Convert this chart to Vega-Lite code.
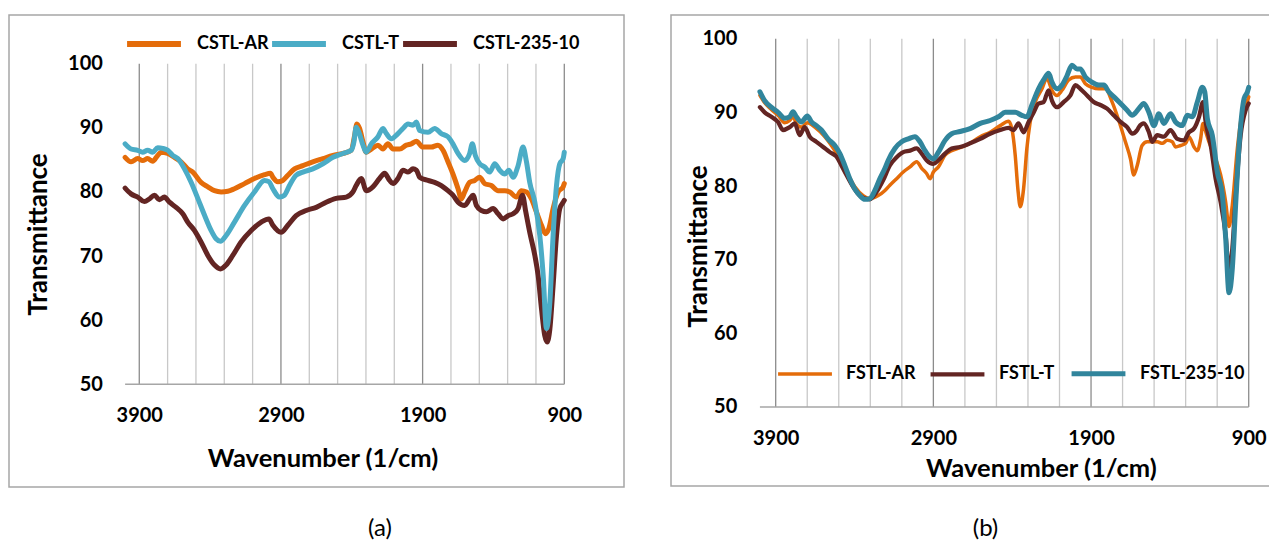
{
"$schema": "https://vega.github.io/schema/vega-lite/v6.json",
"background": "white",
"padding": {"left": 8, "top": 13, "right": 0, "bottom": 0},
"spacing": 45,
"config": {"view": {"stroke": "#a6a6a6", "strokeWidth": 1.5}, "font": "Lato"},
"datasets": {
"grid": [{"g":3900,"m":1},{"g":3700,"m":0},{"g":3500,"m":0},{"g":3300,"m":0},{"g":3100,"m":0},{"g":2900,"m":1},{"g":2700,"m":0},{"g":2500,"m":0},{"g":2300,"m":0},{"g":2100,"m":0},{"g":1900,"m":1},{"g":1700,"m":0},{"g":1500,"m":0},{"g":1300,"m":0},{"g":1100,"m":0},{"g":900,"m":1}],
"a": [
{"s":"CSTL-AR","w":4000,"t":85.4},{"s":"CSTL-AR","w":3958,"t":84.7},{"s":"CSTL-AR","w":3911,"t":85.2},{"s":"CSTL-AR","w":3876,"t":84.9},{"s":"CSTL-AR","w":3841,"t":85.2},{"s":"CSTL-AR","w":3805,"t":84.8},{"s":"CSTL-AR","w":3770,"t":85.7},{"s":"CSTL-AR","w":3746,"t":86.2},{"s":"CSTL-AR","w":3699,"t":86.0},{"s":"CSTL-AR","w":3652,"t":85.4},{"s":"CSTL-AR","w":3605,"t":84.7},{"s":"CSTL-AR","w":3558,"t":83.6},{"s":"CSTL-AR","w":3522,"t":83.1},{"s":"CSTL-AR","w":3464,"t":81.5},{"s":"CSTL-AR","w":3416,"t":80.8},{"s":"CSTL-AR","w":3369,"t":80.2},{"s":"CSTL-AR","w":3322,"t":80.0},{"s":"CSTL-AR","w":3275,"t":80.1},{"s":"CSTL-AR","w":3228,"t":80.5},{"s":"CSTL-AR","w":3157,"t":81.3},{"s":"CSTL-AR","w":3087,"t":82.1},{"s":"CSTL-AR","w":3016,"t":82.7},{"s":"CSTL-AR","w":2974,"t":82.9},{"s":"CSTL-AR","w":2957,"t":82.3},{"s":"CSTL-AR","w":2922,"t":81.6},{"s":"CSTL-AR","w":2887,"t":81.8},{"s":"CSTL-AR","w":2851,"t":82.6},{"s":"CSTL-AR","w":2804,"t":83.6},{"s":"CSTL-AR","w":2745,"t":84.1},{"s":"CSTL-AR","w":2675,"t":84.7},{"s":"CSTL-AR","w":2604,"t":85.2},{"s":"CSTL-AR","w":2533,"t":85.7},{"s":"CSTL-AR","w":2463,"t":86.0},{"s":"CSTL-AR","w":2404,"t":86.5},{"s":"CSTL-AR","w":2380,"t":88.8},{"s":"CSTL-AR","w":2364,"t":90.6},{"s":"CSTL-AR","w":2345,"t":89.9},{"s":"CSTL-AR","w":2321,"t":87.8},{"s":"CSTL-AR","w":2298,"t":86.2},{"s":"CSTL-AR","w":2262,"t":86.7},{"s":"CSTL-AR","w":2215,"t":87.3},{"s":"CSTL-AR","w":2180,"t":86.7},{"s":"CSTL-AR","w":2145,"t":87.5},{"s":"CSTL-AR","w":2109,"t":86.7},{"s":"CSTL-AR","w":2062,"t":86.7},{"s":"CSTL-AR","w":2015,"t":87.3},{"s":"CSTL-AR","w":1980,"t":87.5},{"s":"CSTL-AR","w":1944,"t":87.9},{"s":"CSTL-AR","w":1898,"t":87.0},{"s":"CSTL-AR","w":1839,"t":87.0},{"s":"CSTL-AR","w":1792,"t":87.3},{"s":"CSTL-AR","w":1756,"t":86.5},{"s":"CSTL-AR","w":1721,"t":84.7},{"s":"CSTL-AR","w":1686,"t":82.8},{"s":"CSTL-AR","w":1650,"t":80.5},{"s":"CSTL-AR","w":1627,"t":78.9},{"s":"CSTL-AR","w":1603,"t":80.0},{"s":"CSTL-AR","w":1568,"t":81.5},{"s":"CSTL-AR","w":1532,"t":81.8},{"s":"CSTL-AR","w":1497,"t":82.3},{"s":"CSTL-AR","w":1462,"t":81.3},{"s":"CSTL-AR","w":1415,"t":81.0},{"s":"CSTL-AR","w":1367,"t":80.2},{"s":"CSTL-AR","w":1320,"t":80.2},{"s":"CSTL-AR","w":1285,"t":80.0},{"s":"CSTL-AR","w":1238,"t":79.2},{"s":"CSTL-AR","w":1203,"t":80.2},{"s":"CSTL-AR","w":1167,"t":80.0},{"s":"CSTL-AR","w":1132,"t":78.9},{"s":"CSTL-AR","w":1097,"t":76.9},{"s":"CSTL-AR","w":1061,"t":74.8},{"s":"CSTL-AR","w":1033,"t":73.5},{"s":"CSTL-AR","w":1009,"t":74.3},{"s":"CSTL-AR","w":979,"t":77.4},{"s":"CSTL-AR","w":943,"t":80.0},{"s":"CSTL-AR","w":908,"t":80.8},{"s":"CSTL-AR","w":900,"t":81.3},
{"s":"CSTL-235-10","w":4000,"t":80.6},{"s":"CSTL-235-10","w":3958,"t":79.7},{"s":"CSTL-235-10","w":3911,"t":79.2},{"s":"CSTL-235-10","w":3864,"t":78.5},{"s":"CSTL-235-10","w":3829,"t":78.9},{"s":"CSTL-235-10","w":3793,"t":79.5},{"s":"CSTL-235-10","w":3758,"t":78.8},{"s":"CSTL-235-10","w":3723,"t":79.2},{"s":"CSTL-235-10","w":3687,"t":78.4},{"s":"CSTL-235-10","w":3640,"t":77.6},{"s":"CSTL-235-10","w":3593,"t":76.6},{"s":"CSTL-235-10","w":3558,"t":75.3},{"s":"CSTL-235-10","w":3511,"t":74.0},{"s":"CSTL-235-10","w":3464,"t":72.2},{"s":"CSTL-235-10","w":3416,"t":70.1},{"s":"CSTL-235-10","w":3369,"t":68.6},{"s":"CSTL-235-10","w":3327,"t":68.0},{"s":"CSTL-235-10","w":3287,"t":68.6},{"s":"CSTL-235-10","w":3240,"t":70.1},{"s":"CSTL-235-10","w":3181,"t":72.2},{"s":"CSTL-235-10","w":3110,"t":74.0},{"s":"CSTL-235-10","w":3039,"t":75.3},{"s":"CSTL-235-10","w":2985,"t":75.8},{"s":"CSTL-235-10","w":2957,"t":74.8},{"s":"CSTL-235-10","w":2899,"t":73.7},{"s":"CSTL-235-10","w":2851,"t":74.8},{"s":"CSTL-235-10","w":2793,"t":76.3},{"s":"CSTL-235-10","w":2722,"t":77.1},{"s":"CSTL-235-10","w":2651,"t":77.6},{"s":"CSTL-235-10","w":2581,"t":78.4},{"s":"CSTL-235-10","w":2510,"t":79.0},{"s":"CSTL-235-10","w":2439,"t":79.2},{"s":"CSTL-235-10","w":2392,"t":80.0},{"s":"CSTL-235-10","w":2369,"t":81.0},{"s":"CSTL-235-10","w":2333,"t":82.1},{"s":"CSTL-235-10","w":2298,"t":80.2},{"s":"CSTL-235-10","w":2251,"t":80.8},{"s":"CSTL-235-10","w":2204,"t":82.1},{"s":"CSTL-235-10","w":2168,"t":82.9},{"s":"CSTL-235-10","w":2133,"t":81.8},{"s":"CSTL-235-10","w":2109,"t":81.3},{"s":"CSTL-235-10","w":2074,"t":82.1},{"s":"CSTL-235-10","w":2039,"t":83.4},{"s":"CSTL-235-10","w":2003,"t":83.1},{"s":"CSTL-235-10","w":1968,"t":83.6},{"s":"CSTL-235-10","w":1944,"t":83.4},{"s":"CSTL-235-10","w":1921,"t":82.3},{"s":"CSTL-235-10","w":1862,"t":81.8},{"s":"CSTL-235-10","w":1815,"t":81.5},{"s":"CSTL-235-10","w":1768,"t":81.0},{"s":"CSTL-235-10","w":1721,"t":80.2},{"s":"CSTL-235-10","w":1686,"t":79.5},{"s":"CSTL-235-10","w":1650,"t":78.4},{"s":"CSTL-235-10","w":1603,"t":77.9},{"s":"CSTL-235-10","w":1568,"t":78.9},{"s":"CSTL-235-10","w":1544,"t":79.5},{"s":"CSTL-235-10","w":1521,"t":77.9},{"s":"CSTL-235-10","w":1485,"t":77.1},{"s":"CSTL-235-10","w":1450,"t":76.9},{"s":"CSTL-235-10","w":1403,"t":77.4},{"s":"CSTL-235-10","w":1367,"t":76.6},{"s":"CSTL-235-10","w":1332,"t":75.8},{"s":"CSTL-235-10","w":1297,"t":76.3},{"s":"CSTL-235-10","w":1261,"t":76.6},{"s":"CSTL-235-10","w":1226,"t":77.4},{"s":"CSTL-235-10","w":1195,"t":79.5},{"s":"CSTL-235-10","w":1172,"t":76.9},{"s":"CSTL-235-10","w":1144,"t":73.7},{"s":"CSTL-235-10","w":1108,"t":70.1},{"s":"CSTL-235-10","w":1085,"t":67.0},{"s":"CSTL-235-10","w":1061,"t":61.8},{"s":"CSTL-235-10","w":1038,"t":57.6},{"s":"CSTL-235-10","w":1021,"t":56.6},{"s":"CSTL-235-10","w":1002,"t":58.6},{"s":"CSTL-235-10","w":979,"t":65.4},{"s":"CSTL-235-10","w":955,"t":73.2},{"s":"CSTL-235-10","w":932,"t":77.4},{"s":"CSTL-235-10","w":908,"t":78.4},{"s":"CSTL-235-10","w":900,"t":78.7},
{"s":"CSTL-T","w":4000,"t":87.5},{"s":"CSTL-T","w":3958,"t":86.7},{"s":"CSTL-T","w":3911,"t":86.5},{"s":"CSTL-T","w":3876,"t":86.2},{"s":"CSTL-T","w":3841,"t":86.5},{"s":"CSTL-T","w":3805,"t":86.2},{"s":"CSTL-T","w":3770,"t":86.9},{"s":"CSTL-T","w":3734,"t":86.8},{"s":"CSTL-T","w":3699,"t":86.5},{"s":"CSTL-T","w":3664,"t":85.7},{"s":"CSTL-T","w":3628,"t":85.2},{"s":"CSTL-T","w":3581,"t":83.6},{"s":"CSTL-T","w":3534,"t":81.5},{"s":"CSTL-T","w":3487,"t":79.0},{"s":"CSTL-T","w":3440,"t":76.4},{"s":"CSTL-T","w":3393,"t":74.0},{"s":"CSTL-T","w":3358,"t":72.7},{"s":"CSTL-T","w":3327,"t":72.3},{"s":"CSTL-T","w":3287,"t":73.2},{"s":"CSTL-T","w":3228,"t":75.3},{"s":"CSTL-T","w":3157,"t":77.9},{"s":"CSTL-T","w":3087,"t":80.0},{"s":"CSTL-T","w":3016,"t":81.8},{"s":"CSTL-T","w":2985,"t":81.6},{"s":"CSTL-T","w":2957,"t":80.5},{"s":"CSTL-T","w":2910,"t":79.2},{"s":"CSTL-T","w":2875,"t":79.5},{"s":"CSTL-T","w":2840,"t":81.0},{"s":"CSTL-T","w":2793,"t":82.6},{"s":"CSTL-T","w":2745,"t":83.1},{"s":"CSTL-T","w":2675,"t":83.6},{"s":"CSTL-T","w":2604,"t":84.4},{"s":"CSTL-T","w":2533,"t":85.4},{"s":"CSTL-T","w":2463,"t":86.0},{"s":"CSTL-T","w":2404,"t":86.5},{"s":"CSTL-T","w":2385,"t":87.8},{"s":"CSTL-T","w":2369,"t":90.1},{"s":"CSTL-T","w":2350,"t":89.3},{"s":"CSTL-T","w":2321,"t":87.3},{"s":"CSTL-T","w":2298,"t":86.2},{"s":"CSTL-T","w":2262,"t":87.5},{"s":"CSTL-T","w":2215,"t":88.6},{"s":"CSTL-T","w":2180,"t":89.9},{"s":"CSTL-T","w":2156,"t":89.1},{"s":"CSTL-T","w":2121,"t":88.3},{"s":"CSTL-T","w":2074,"t":89.1},{"s":"CSTL-T","w":2039,"t":89.9},{"s":"CSTL-T","w":2003,"t":90.6},{"s":"CSTL-T","w":1968,"t":90.4},{"s":"CSTL-T","w":1944,"t":90.9},{"s":"CSTL-T","w":1921,"t":89.6},{"s":"CSTL-T","w":1862,"t":89.3},{"s":"CSTL-T","w":1815,"t":89.9},{"s":"CSTL-T","w":1768,"t":89.1},{"s":"CSTL-T","w":1721,"t":88.6},{"s":"CSTL-T","w":1686,"t":87.5},{"s":"CSTL-T","w":1650,"t":86.0},{"s":"CSTL-T","w":1603,"t":84.9},{"s":"CSTL-T","w":1568,"t":86.0},{"s":"CSTL-T","w":1549,"t":87.5},{"s":"CSTL-T","w":1528,"t":85.7},{"s":"CSTL-T","w":1497,"t":84.4},{"s":"CSTL-T","w":1462,"t":83.9},{"s":"CSTL-T","w":1426,"t":83.1},{"s":"CSTL-T","w":1391,"t":84.4},{"s":"CSTL-T","w":1356,"t":83.4},{"s":"CSTL-T","w":1320,"t":82.8},{"s":"CSTL-T","w":1292,"t":83.4},{"s":"CSTL-T","w":1261,"t":82.3},{"s":"CSTL-T","w":1226,"t":84.1},{"s":"CSTL-T","w":1191,"t":87.0},{"s":"CSTL-T","w":1167,"t":84.7},{"s":"CSTL-T","w":1144,"t":81.5},{"s":"CSTL-T","w":1108,"t":78.4},{"s":"CSTL-T","w":1073,"t":73.2},{"s":"CSTL-T","w":1049,"t":67.0},{"s":"CSTL-T","w":1026,"t":58.7},{"s":"CSTL-T","w":1002,"t":62.8},{"s":"CSTL-T","w":979,"t":73.2},{"s":"CSTL-T","w":955,"t":81.0},{"s":"CSTL-T","w":932,"t":84.4},{"s":"CSTL-T","w":908,"t":85.2},{"s":"CSTL-T","w":900,"t":86.2}
],
"b": [
{"s":"FSTL-AR","w":4000,"t":92.3},{"s":"FSTL-AR","w":3970,"t":91.3},{"s":"FSTL-AR","w":3928,"t":90.4},{"s":"FSTL-AR","w":3885,"t":89.6},{"s":"FSTL-AR","w":3843,"t":88.6},{"s":"FSTL-AR","w":3811,"t":88.9},{"s":"FSTL-AR","w":3790,"t":89.4},{"s":"FSTL-AR","w":3769,"t":88.5},{"s":"FSTL-AR","w":3737,"t":88.0},{"s":"FSTL-AR","w":3699,"t":88.6},{"s":"FSTL-AR","w":3652,"t":88.0},{"s":"FSTL-AR","w":3589,"t":86.7},{"s":"FSTL-AR","w":3525,"t":84.8},{"s":"FSTL-AR","w":3483,"t":83.3},{"s":"FSTL-AR","w":3440,"t":81.5},{"s":"FSTL-AR","w":3398,"t":79.9},{"s":"FSTL-AR","w":3345,"t":78.7},{"s":"FSTL-AR","w":3303,"t":78.3},{"s":"FSTL-AR","w":3250,"t":78.7},{"s":"FSTL-AR","w":3207,"t":79.4},{"s":"FSTL-AR","w":3176,"t":80.1},{"s":"FSTL-AR","w":3133,"t":81.0},{"s":"FSTL-AR","w":3091,"t":81.9},{"s":"FSTL-AR","w":3048,"t":82.6},{"s":"FSTL-AR","w":3006,"t":83.3},{"s":"FSTL-AR","w":2974,"t":82.4},{"s":"FSTL-AR","w":2943,"t":81.7},{"s":"FSTL-AR","w":2921,"t":81.0},{"s":"FSTL-AR","w":2900,"t":81.9},{"s":"FSTL-AR","w":2868,"t":82.6},{"s":"FSTL-AR","w":2826,"t":84.2},{"s":"FSTL-AR","w":2784,"t":84.8},{"s":"FSTL-AR","w":2731,"t":85.2},{"s":"FSTL-AR","w":2667,"t":85.8},{"s":"FSTL-AR","w":2603,"t":86.7},{"s":"FSTL-AR","w":2540,"t":87.3},{"s":"FSTL-AR","w":2476,"t":88.2},{"s":"FSTL-AR","w":2423,"t":88.8},{"s":"FSTL-AR","w":2402,"t":87.8},{"s":"FSTL-AR","w":2381,"t":84.2},{"s":"FSTL-AR","w":2364,"t":79.6},{"s":"FSTL-AR","w":2349,"t":77.2},{"s":"FSTL-AR","w":2328,"t":79.6},{"s":"FSTL-AR","w":2307,"t":85.1},{"s":"FSTL-AR","w":2286,"t":88.7},{"s":"FSTL-AR","w":2254,"t":91.4},{"s":"FSTL-AR","w":2211,"t":93.2},{"s":"FSTL-AR","w":2180,"t":94.6},{"s":"FSTL-AR","w":2148,"t":93.0},{"s":"FSTL-AR","w":2116,"t":92.3},{"s":"FSTL-AR","w":2084,"t":93.0},{"s":"FSTL-AR","w":2042,"t":94.4},{"s":"FSTL-AR","w":1999,"t":94.8},{"s":"FSTL-AR","w":1968,"t":94.8},{"s":"FSTL-AR","w":1936,"t":93.9},{"s":"FSTL-AR","w":1894,"t":93.4},{"s":"FSTL-AR","w":1851,"t":93.2},{"s":"FSTL-AR","w":1809,"t":93.2},{"s":"FSTL-AR","w":1766,"t":91.4},{"s":"FSTL-AR","w":1724,"t":88.9},{"s":"FSTL-AR","w":1682,"t":86.0},{"s":"FSTL-AR","w":1650,"t":83.7},{"s":"FSTL-AR","w":1629,"t":81.5},{"s":"FSTL-AR","w":1607,"t":82.8},{"s":"FSTL-AR","w":1576,"t":85.5},{"s":"FSTL-AR","w":1544,"t":86.0},{"s":"FSTL-AR","w":1512,"t":86.0},{"s":"FSTL-AR","w":1480,"t":86.0},{"s":"FSTL-AR","w":1448,"t":85.8},{"s":"FSTL-AR","w":1417,"t":86.2},{"s":"FSTL-AR","w":1385,"t":86.0},{"s":"FSTL-AR","w":1364,"t":85.3},{"s":"FSTL-AR","w":1332,"t":85.5},{"s":"FSTL-AR","w":1300,"t":85.8},{"s":"FSTL-AR","w":1279,"t":86.7},{"s":"FSTL-AR","w":1247,"t":85.3},{"s":"FSTL-AR","w":1226,"t":84.8},{"s":"FSTL-AR","w":1205,"t":86.4},{"s":"FSTL-AR","w":1190,"t":88.5},{"s":"FSTL-AR","w":1179,"t":87.8},{"s":"FSTL-AR","w":1152,"t":86.0},{"s":"FSTL-AR","w":1110,"t":83.7},{"s":"FSTL-AR","w":1078,"t":81.5},{"s":"FSTL-AR","w":1046,"t":77.8},{"s":"FSTL-AR","w":1025,"t":74.5},{"s":"FSTL-AR","w":1004,"t":77.4},{"s":"FSTL-AR","w":972,"t":85.1},{"s":"FSTL-AR","w":940,"t":90.1},{"s":"FSTL-AR","w":908,"t":91.6},{"s":"FSTL-AR","w":900,"t":92.1},
{"s":"FSTL-T","w":4000,"t":90.7},{"s":"FSTL-T","w":3970,"t":90.0},{"s":"FSTL-T","w":3928,"t":89.4},{"s":"FSTL-T","w":3885,"t":88.7},{"s":"FSTL-T","w":3854,"t":87.6},{"s":"FSTL-T","w":3811,"t":88.0},{"s":"FSTL-T","w":3779,"t":88.5},{"s":"FSTL-T","w":3748,"t":86.9},{"s":"FSTL-T","w":3716,"t":88.0},{"s":"FSTL-T","w":3684,"t":86.7},{"s":"FSTL-T","w":3642,"t":86.0},{"s":"FSTL-T","w":3599,"t":85.3},{"s":"FSTL-T","w":3557,"t":84.6},{"s":"FSTL-T","w":3515,"t":84.0},{"s":"FSTL-T","w":3483,"t":82.8},{"s":"FSTL-T","w":3451,"t":81.5},{"s":"FSTL-T","w":3409,"t":79.9},{"s":"FSTL-T","w":3366,"t":78.7},{"s":"FSTL-T","w":3334,"t":78.3},{"s":"FSTL-T","w":3303,"t":78.2},{"s":"FSTL-T","w":3260,"t":79.2},{"s":"FSTL-T","w":3218,"t":80.8},{"s":"FSTL-T","w":3176,"t":82.8},{"s":"FSTL-T","w":3133,"t":83.9},{"s":"FSTL-T","w":3091,"t":84.6},{"s":"FSTL-T","w":3048,"t":84.8},{"s":"FSTL-T","w":3006,"t":85.1},{"s":"FSTL-T","w":2974,"t":84.4},{"s":"FSTL-T","w":2943,"t":83.5},{"s":"FSTL-T","w":2900,"t":83.0},{"s":"FSTL-T","w":2868,"t":83.5},{"s":"FSTL-T","w":2826,"t":84.4},{"s":"FSTL-T","w":2784,"t":85.1},{"s":"FSTL-T","w":2731,"t":85.3},{"s":"FSTL-T","w":2667,"t":85.8},{"s":"FSTL-T","w":2603,"t":86.4},{"s":"FSTL-T","w":2540,"t":87.1},{"s":"FSTL-T","w":2476,"t":87.6},{"s":"FSTL-T","w":2423,"t":87.9},{"s":"FSTL-T","w":2392,"t":87.6},{"s":"FSTL-T","w":2360,"t":88.5},{"s":"FSTL-T","w":2328,"t":87.3},{"s":"FSTL-T","w":2296,"t":88.7},{"s":"FSTL-T","w":2264,"t":90.0},{"s":"FSTL-T","w":2233,"t":91.2},{"s":"FSTL-T","w":2201,"t":91.4},{"s":"FSTL-T","w":2169,"t":93.0},{"s":"FSTL-T","w":2148,"t":91.6},{"s":"FSTL-T","w":2116,"t":90.7},{"s":"FSTL-T","w":2074,"t":91.4},{"s":"FSTL-T","w":2031,"t":92.3},{"s":"FSTL-T","w":1999,"t":93.7},{"s":"FSTL-T","w":1968,"t":93.2},{"s":"FSTL-T","w":1925,"t":92.3},{"s":"FSTL-T","w":1883,"t":91.4},{"s":"FSTL-T","w":1841,"t":91.0},{"s":"FSTL-T","w":1798,"t":90.5},{"s":"FSTL-T","w":1756,"t":89.6},{"s":"FSTL-T","w":1713,"t":88.7},{"s":"FSTL-T","w":1671,"t":88.0},{"s":"FSTL-T","w":1639,"t":87.1},{"s":"FSTL-T","w":1607,"t":87.6},{"s":"FSTL-T","w":1597,"t":88.0},{"s":"FSTL-T","w":1565,"t":88.5},{"s":"FSTL-T","w":1533,"t":87.3},{"s":"FSTL-T","w":1512,"t":86.0},{"s":"FSTL-T","w":1480,"t":86.9},{"s":"FSTL-T","w":1438,"t":86.7},{"s":"FSTL-T","w":1396,"t":87.6},{"s":"FSTL-T","w":1353,"t":86.4},{"s":"FSTL-T","w":1311,"t":86.2},{"s":"FSTL-T","w":1279,"t":87.3},{"s":"FSTL-T","w":1247,"t":87.8},{"s":"FSTL-T","w":1215,"t":89.4},{"s":"FSTL-T","w":1190,"t":91.4},{"s":"FSTL-T","w":1173,"t":88.7},{"s":"FSTL-T","w":1141,"t":85.5},{"s":"FSTL-T","w":1110,"t":81.0},{"s":"FSTL-T","w":1078,"t":77.8},{"s":"FSTL-T","w":1046,"t":73.3},{"s":"FSTL-T","w":1025,"t":68.5},{"s":"FSTL-T","w":1004,"t":71.5},{"s":"FSTL-T","w":982,"t":78.7},{"s":"FSTL-T","w":951,"t":86.9},{"s":"FSTL-T","w":919,"t":90.3},{"s":"FSTL-T","w":900,"t":91.2},
{"s":"FSTL-235-10","w":4000,"t":92.8},{"s":"FSTL-235-10","w":3970,"t":91.6},{"s":"FSTL-235-10","w":3928,"t":90.7},{"s":"FSTL-235-10","w":3885,"t":90.0},{"s":"FSTL-235-10","w":3843,"t":89.2},{"s":"FSTL-235-10","w":3811,"t":89.4},{"s":"FSTL-235-10","w":3790,"t":90.1},{"s":"FSTL-235-10","w":3769,"t":89.4},{"s":"FSTL-235-10","w":3737,"t":88.7},{"s":"FSTL-235-10","w":3699,"t":89.5},{"s":"FSTL-235-10","w":3673,"t":88.7},{"s":"FSTL-235-10","w":3642,"t":88.2},{"s":"FSTL-235-10","w":3610,"t":87.6},{"s":"FSTL-235-10","w":3568,"t":86.4},{"s":"FSTL-235-10","w":3525,"t":85.5},{"s":"FSTL-235-10","w":3493,"t":84.4},{"s":"FSTL-235-10","w":3462,"t":82.8},{"s":"FSTL-235-10","w":3430,"t":81.0},{"s":"FSTL-235-10","w":3398,"t":79.6},{"s":"FSTL-235-10","w":3366,"t":78.7},{"s":"FSTL-235-10","w":3334,"t":78.2},{"s":"FSTL-235-10","w":3303,"t":78.3},{"s":"FSTL-235-10","w":3271,"t":79.4},{"s":"FSTL-235-10","w":3239,"t":81.0},{"s":"FSTL-235-10","w":3207,"t":82.4},{"s":"FSTL-235-10","w":3186,"t":83.5},{"s":"FSTL-235-10","w":3144,"t":85.1},{"s":"FSTL-235-10","w":3101,"t":86.0},{"s":"FSTL-235-10","w":3059,"t":86.4},{"s":"FSTL-235-10","w":3017,"t":86.7},{"s":"FSTL-235-10","w":2985,"t":86.0},{"s":"FSTL-235-10","w":2953,"t":84.8},{"s":"FSTL-235-10","w":2921,"t":83.9},{"s":"FSTL-235-10","w":2900,"t":83.7},{"s":"FSTL-235-10","w":2868,"t":84.6},{"s":"FSTL-235-10","w":2826,"t":86.2},{"s":"FSTL-235-10","w":2784,"t":87.1},{"s":"FSTL-235-10","w":2731,"t":87.4},{"s":"FSTL-235-10","w":2667,"t":87.8},{"s":"FSTL-235-10","w":2603,"t":88.5},{"s":"FSTL-235-10","w":2540,"t":88.9},{"s":"FSTL-235-10","w":2487,"t":89.4},{"s":"FSTL-235-10","w":2444,"t":90.0},{"s":"FSTL-235-10","w":2402,"t":90.0},{"s":"FSTL-235-10","w":2381,"t":90.0},{"s":"FSTL-235-10","w":2339,"t":89.6},{"s":"FSTL-235-10","w":2307,"t":89.4},{"s":"FSTL-235-10","w":2275,"t":91.0},{"s":"FSTL-235-10","w":2233,"t":93.2},{"s":"FSTL-235-10","w":2201,"t":94.4},{"s":"FSTL-235-10","w":2169,"t":95.3},{"s":"FSTL-235-10","w":2148,"t":94.1},{"s":"FSTL-235-10","w":2116,"t":93.2},{"s":"FSTL-235-10","w":2084,"t":93.7},{"s":"FSTL-235-10","w":2052,"t":95.0},{"s":"FSTL-235-10","w":2021,"t":96.4},{"s":"FSTL-235-10","w":1989,"t":95.9},{"s":"FSTL-235-10","w":1968,"t":95.9},{"s":"FSTL-235-10","w":1936,"t":94.8},{"s":"FSTL-235-10","w":1894,"t":94.1},{"s":"FSTL-235-10","w":1851,"t":93.7},{"s":"FSTL-235-10","w":1819,"t":93.7},{"s":"FSTL-235-10","w":1788,"t":92.8},{"s":"FSTL-235-10","w":1745,"t":91.9},{"s":"FSTL-235-10","w":1703,"t":91.0},{"s":"FSTL-235-10","w":1671,"t":90.3},{"s":"FSTL-235-10","w":1639,"t":89.6},{"s":"FSTL-235-10","w":1620,"t":89.9},{"s":"FSTL-235-10","w":1597,"t":90.5},{"s":"FSTL-235-10","w":1565,"t":91.2},{"s":"FSTL-235-10","w":1533,"t":90.0},{"s":"FSTL-235-10","w":1501,"t":88.2},{"s":"FSTL-235-10","w":1470,"t":89.8},{"s":"FSTL-235-10","w":1438,"t":88.5},{"s":"FSTL-235-10","w":1396,"t":89.8},{"s":"FSTL-235-10","w":1364,"t":88.7},{"s":"FSTL-235-10","w":1321,"t":88.2},{"s":"FSTL-235-10","w":1290,"t":89.6},{"s":"FSTL-235-10","w":1258,"t":89.4},{"s":"FSTL-235-10","w":1226,"t":91.4},{"s":"FSTL-235-10","w":1194,"t":93.4},{"s":"FSTL-235-10","w":1179,"t":92.8},{"s":"FSTL-235-10","w":1162,"t":89.1},{"s":"FSTL-235-10","w":1131,"t":86.9},{"s":"FSTL-235-10","w":1099,"t":81.9},{"s":"FSTL-235-10","w":1067,"t":78.7},{"s":"FSTL-235-10","w":1046,"t":72.9},{"s":"FSTL-235-10","w":1025,"t":65.5},{"s":"FSTL-235-10","w":1004,"t":68.8},{"s":"FSTL-235-10","w":982,"t":77.8},{"s":"FSTL-235-10","w":961,"t":85.5},{"s":"FSTL-235-10","w":929,"t":91.9},{"s":"FSTL-235-10","w":908,"t":92.8},{"s":"FSTL-235-10","w":900,"t":93.4}
]
},
"hconcat": [
{
"width": 615, "height": 472,
"title": {"text": "(a)", "orient": "bottom", "anchor": "middle", "dx": 63.5, "offset": 30, "font": "Lato", "fontSize": 24, "fontWeight": "normal", "color": "#000000"},
"layer": [
{"data": {"name": "grid"}, "mark": {"type": "rule", "strokeWidth": 1.3},
 "encoding": {
  "x": {"field": "g", "type": "quantitative", "scale": {"domain": [4819.5, 478.6], "nice": false, "zero": false},
        "axis": {"title": "Wavenumber (1/cm)", "values": [3900, 2900, 1900, 900], "format": "d", "domain": false, "ticks": false, "tickSize": 0, "grid": false, "offset": -102.7, "labelPadding": 30.7, "labelBaseline": "middle", "labelFont": "Lato", "labelFontSize": 20, "labelFontWeight": "bold", "labelColor": "#000000", "labelOverlap": false, "labelFlush": false, "titleFont": "Lato", "titleFontSize": 25.5, "titleFontWeight": "bold", "titleColor": "#000000", "titleX": 313.5, "titleY": 74.4, "titleBaseline": "middle", "titleAlign": "center"}},
  "y": {"datum": 50, "type": "quantitative", "scale": {"domain": [33.98, 107.6], "nice": false, "zero": false},
        "axis": {"title": "Transmittance", "values": [50, 60, 70, 80, 90, 100], "domain": false, "ticks": false, "tickSize": 0, "grid": false, "offset": -98.4, "labelPadding": 5, "labelFont": "Lato", "labelFontSize": 20, "labelFontWeight": "bold", "labelColor": "#000000", "labelOverlap": false, "titleFont": "Lato", "titleFontSize": 26, "titleFontWeight": "bold", "titleColor": "#000000", "titleX": -69.4, "titleY": 219, "titleBaseline": "middle", "titleAlign": "center", "titleAngle": 270}},
  "y2": {"datum": 100},
  "color": {"condition": {"test": "datum.m == 1", "value": "#8c8c8c"}, "value": "#c8c8c8"}
 }},
{"data": {"values": [{}]}, "mark": {"type": "rule", "color": "#a6a6a6", "strokeWidth": 1.5},
 "encoding": {"x": {"datum": 4000, "type": "quantitative"}, "x2": {"datum": 900}, "y": {"datum": 50, "type": "quantitative"}}},
{"data": {"name": "a"}, "mark": {"type": "line", "strokeWidth": 5, "interpolate": "monotone", "strokeJoin": "round", "strokeCap": "round"},
 "encoding": {
  "x": {"field": "w", "type": "quantitative"},
  "y": {"field": "t", "type": "quantitative"},
  "color": {"field": "s", "type": "nominal", "scale": {"domain": ["CSTL-AR", "CSTL-T", "CSTL-235-10"], "range": ["#E46C0A", "#4BACC6", "#632523"]},
   "legend": {"title": null, "orient": "none", "legendX": 115, "legendY": -1, "direction": "horizontal", "symbolType": "stroke", "symbolSize": 2900, "symbolStrokeWidth": 6, "columnPadding": -9, "labelOffset": 13, "padding": 0, "labelFont": "Lato", "labelFontSize": 18, "labelFontWeight": "bold", "labelColor": "#000000"}}
 }}
]
},
{
"width": 599, "height": 471,
"title": {"text": "(b)", "orient": "bottom", "anchor": "middle", "dx": 15, "offset": 31, "font": "Lato", "fontSize": 24, "fontWeight": "normal", "color": "#000000"},
"layer": [
{"data": {"name": "grid"}, "mark": {"type": "rule", "strokeWidth": 1.3},
 "encoding": {
  "x": {"field": "g", "type": "quantitative", "scale": {"domain": [4564, 765], "nice": false, "zero": false},
        "axis": {"title": "Wavenumber (1/cm)", "values": [3900, 2900, 1900, 900], "format": "d", "domain": false, "ticks": false, "tickSize": 0, "grid": false, "offset": -79, "labelPadding": 31.7, "labelBaseline": "middle", "labelFont": "Lato", "labelFontSize": 20, "labelFontWeight": "bold", "labelColor": "#000000", "labelOverlap": false, "labelFlush": false, "titleFont": "Lato", "titleFontSize": 25.5, "titleFontWeight": "bold", "titleColor": "#000000", "titleX": 369.9, "titleY": 61.7, "titleBaseline": "middle", "titleAlign": "center"}},
  "y": {"datum": 50, "type": "quantitative", "scale": {"domain": [39.27, 103.22], "nice": false, "zero": false},
        "axis": {"title": "Transmittance", "values": [50, 60, 70, 80, 90, 100], "domain": false, "ticks": false, "tickSize": 0, "grid": false, "offset": -70.8, "labelPadding": 5, "labelFont": "Lato", "labelFontSize": 20, "labelFontWeight": "bold", "labelColor": "#000000", "labelOverlap": false, "titleFont": "Lato", "titleFontSize": 26, "titleFontWeight": "bold", "titleColor": "#000000", "titleX": -43.8, "titleY": 231, "titleBaseline": "middle", "titleAlign": "center", "titleAngle": 270}},
  "y2": {"datum": 100},
  "color": {"condition": {"test": "datum.m == 1", "value": "#8c8c8c"}, "value": "#c8c8c8"}
 }},
{"data": {"values": [{}]}, "mark": {"type": "rule", "color": "#a6a6a6", "strokeWidth": 1.5},
 "encoding": {"x": {"datum": 4000, "type": "quantitative"}, "x2": {"datum": 900}, "y": {"datum": 50, "type": "quantitative"}}},
{"data": {"name": "b"}, "mark": {"type": "line", "interpolate": "monotone", "strokeJoin": "round", "strokeCap": "round"},
 "encoding": {
  "x": {"field": "w", "type": "quantitative"},
  "y": {"field": "t", "type": "quantitative"},
  "color": {"field": "s", "type": "nominal", "scale": {"domain": ["FSTL-AR", "FSTL-T", "FSTL-235-10"], "range": ["#E46C0A", "#632523", "#31859C"]},
   "legend": {"title": null, "orient": "none", "legendX": 105, "legendY": 329, "direction": "horizontal", "symbolType": "stroke", "symbolSize": 2900, "columnPadding": 6, "labelOffset": 12, "padding": 0, "labelFont": "Lato", "labelFontSize": 18, "labelFontWeight": "bold", "labelColor": "#000000"}},
  "strokeWidth": {"field": "s", "type": "nominal", "scale": {"domain": ["FSTL-AR", "FSTL-T", "FSTL-235-10"], "range": [3.5, 5, 5.5]},
   "legend": {"title": null, "orient": "none", "legendX": 105, "legendY": 329, "direction": "horizontal", "symbolType": "stroke", "symbolSize": 2900, "columnPadding": 6, "labelOffset": 12, "padding": 0, "labelFont": "Lato", "labelFontSize": 18, "labelFontWeight": "bold", "labelColor": "#000000"}}
 }}
]
}
],
"resolve": {"scale": {"color": "independent", "strokeWidth": "independent", "x": "independent", "y": "independent"}, "legend": {"color": "independent", "strokeWidth": "independent"}}
}
